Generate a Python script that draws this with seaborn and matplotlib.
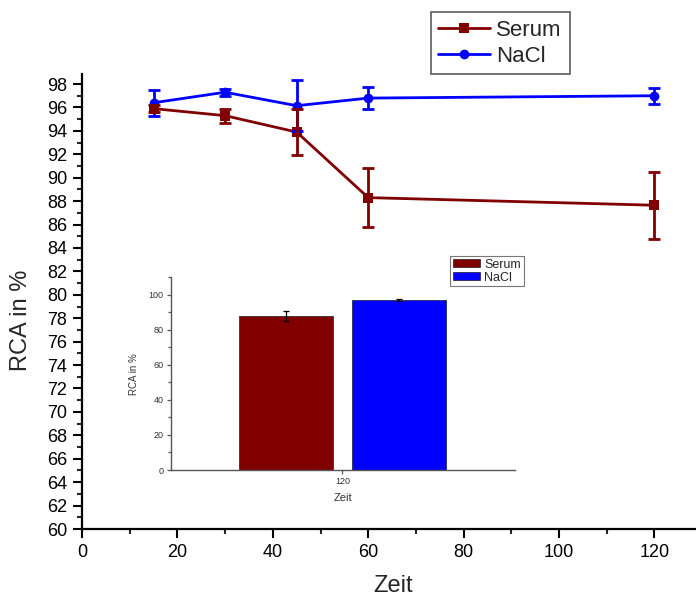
import matplotlib
matplotlib.use("Agg")
import matplotlib.pyplot as plt
from matplotlib.ticker import MultipleLocator
import numpy as np
import pandas as pd
import seaborn as sns

# Time course of RCA (mean and error) for both media
zeit = [15, 30, 45, 60, 120]
serum_mean = [95.9, 95.3, 93.9, 88.3, 87.65]
serum_err = [0.3, 0.6, 2.0, 2.5, 2.85]
nacl_mean = [96.4, 97.3, 96.15, 96.8, 97.0]
nacl_err = [1.1, 0.3, 2.2, 0.95, 0.7]

groups = ["Serum", "NaCl"]
colors = {"Serum": "#800000", "NaCl": "#0000FF"}

# Inset: values at the last time point
bar_zeit = "120"
bar_mean = [87.65, 97.0]
bar_err = [2.85, 0.7]

sns.set_style("ticks")
plt.rcParams["font.family"] = ["Liberation Sans", "DejaVu Sans"]

W, H = 696, 596
fig = plt.figure(figsize=(W / 100, H / 100), dpi=100)

# ---------------- main line chart ----------------
ax = fig.add_axes([82 / W, 1 - 529 / H, (W - 82) / W, (529 - 73.5) / H])

df = pd.DataFrame({
    "Zeit": zeit * 2,
    "RCA": serum_mean + nacl_mean,
    "Err": serum_err + nacl_err,
    "Gruppe": ["Serum"] * len(zeit) + ["NaCl"] * len(zeit),
})

draw_order = ["NaCl", "Serum"]
sns.lineplot(data=df, x="Zeit", y="RCA", hue="Gruppe", style="Gruppe",
             hue_order=draw_order, style_order=draw_order,
             palette=colors, markers={"Serum": "s", "NaCl": "o"},
             dashes=False, linewidth=2.0, markersize=7, markeredgewidth=0,
             legend=False, ax=ax)

lines = {}
for g, ln in zip(draw_order, ax.lines):
    lines[g] = ln
    sub = df[df["Gruppe"] == g]
    ax.errorbar(sub["Zeit"], sub["RCA"], yerr=sub["Err"], fmt="none",
                ecolor=colors[g], elinewidth=2.0, capsize=4.5, capthick=2.0,
                zorder=ln.get_zorder())

ax.set_xlim(0, (W - 82) / 4.77)
ax.set_ylim(60, 98.9)
ax.set_xticks([0, 20, 40, 60, 80, 100, 120])
ax.set_xticks([10, 30, 50, 70, 90, 110], minor=True)
ax.yaxis.set_major_locator(MultipleLocator(2))
ax.yaxis.set_minor_locator(MultipleLocator(1))
ax.tick_params(axis="both", which="major", direction="out", length=6.5,
               width=1.5, labelsize=13, colors="black", pad=4)
ax.tick_params(axis="both", which="minor", direction="out", length=3.5,
               width=1.5)
for side in ["top", "right"]:
    ax.spines[side].set_visible(False)
for side in ["left", "bottom"]:
    ax.spines[side].set_linewidth(1.6)
    ax.spines[side].set_color("black")

ax.set_xlabel("Zeit", fontsize=17)
ax.set_ylabel("RCA in %", fontsize=17)
ax.xaxis.set_label_coords((393 - 82) / (W - 82), -0.1)
ax.yaxis.set_label_coords((32 - 82) / (W - 82), (529 - 320) / (529 - 73.5))

leg = fig.legend(handles=[lines["Serum"], lines["NaCl"]], labels=groups,
                 loc="upper left", bbox_to_anchor=(430.7 / W, 1 - 12.3 / H),
                 fontsize=16, frameon=True, fancybox=False, handlelength=2.3,
                 handletextpad=0.3, borderpad=0.35, labelspacing=0.2,
                 borderaxespad=0)
leg.get_frame().set_edgecolor("#333333")
leg.get_frame().set_linewidth(1.2)

# ---------------- inset bar chart ----------------
in_left, in_right, in_bottom, in_top = 170.7, 515.0, 470.0, 277.3
ax_in = fig.add_axes([in_left / W, 1 - in_bottom / H,
                      (in_right - in_left) / W, (in_bottom - in_top) / H])
bdf = pd.DataFrame({"Zeit": [bar_zeit] * 2, "RCA": bar_mean,
                    "Err": bar_err, "Gruppe": groups})
sns.barplot(data=bdf, x="Zeit", y="RCA", hue="Gruppe", hue_order=groups,
            palette=colors, saturation=1, width=0.8, gap=0.164,
            errorbar=None, edgecolor="black", linewidth=0.4, legend=False,
            ax=ax_in)

bars = ax_in.patches
for bar, m, e in zip(bars, bdf["RCA"], bdf["Err"]):
    cx = bar.get_x() + bar.get_width() / 2
    ax_in.errorbar([cx], [m], yerr=[e], fmt="none", ecolor="black",
                   elinewidth=0.9, capsize=2.5, capthick=0.9)

ax_in.set_xlim(-0.611, 0.614)
ax_in.set_ylim(0, 110)
ax_in.yaxis.set_major_locator(MultipleLocator(20))
ax_in.yaxis.set_minor_locator(MultipleLocator(10))
ax_in.tick_params(axis="both", which="major", direction="out", length=3,
                  width=0.9, labelsize=6.5, colors="#555555",
                  labelcolor="#333333", pad=2)
ax_in.tick_params(axis="y", which="minor", direction="out", length=2,
                  width=0.9, colors="#555555")
for side in ["top", "right"]:
    ax_in.spines[side].set_visible(False)
for side in ["left", "bottom"]:
    ax_in.spines[side].set_linewidth(1.0)
    ax_in.spines[side].set_color("#555555")
ax_in.set_xlabel("Zeit", fontsize=8, color="#333333", labelpad=5)
ax_in.set_ylabel("RCA in %", fontsize=7, color="#333333", labelpad=7)
ax_in.set_facecolor("white")

leg_in = ax_in.legend(handles=list(bars[:2]), labels=groups,
                      loc="upper left",
                      bbox_to_anchor=((450 - in_left) / (in_right - in_left),
                                      (in_bottom - 256) / (in_bottom - in_top)),
                      fontsize=9, frameon=True, fancybox=False,
                      handlelength=2.2, handleheight=0.6, handletextpad=0.35,
                      borderpad=0.2, borderaxespad=0, labelspacing=0.1)
leg_in.get_frame().set_edgecolor("#555555")
leg_in.get_frame().set_linewidth(0.8)

fig.savefig("out.png", dpi=100)
